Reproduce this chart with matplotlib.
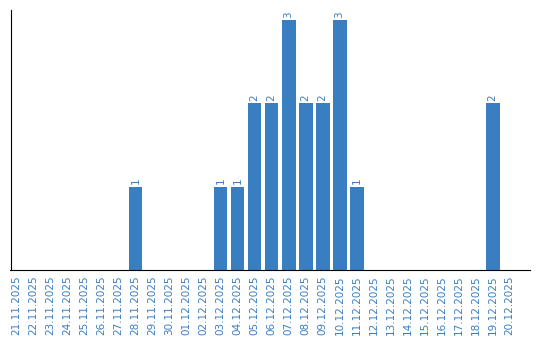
import matplotlib
matplotlib.use("Agg")
import matplotlib.pyplot as plt
import numpy as np

dates = [
    "21.11.2025", "22.11.2025", "23.11.2025", "24.11.2025", "25.11.2025",
    "26.11.2025", "27.11.2025", "28.11.2025", "29.11.2025", "30.11.2025",
    "01.12.2025", "02.12.2025", "03.12.2025", "04.12.2025", "05.12.2025",
    "06.12.2025", "07.12.2025", "08.12.2025", "09.12.2025", "10.12.2025",
    "11.12.2025", "12.12.2025", "13.12.2025", "14.12.2025", "15.12.2025",
    "16.12.2025", "17.12.2025", "18.12.2025", "19.12.2025", "20.12.2025",
]
counts = [0, 0, 0, 0, 0, 0, 0, 1, 0, 0,
          0, 0, 1, 1, 2, 2, 3, 2, 2, 3,
          1, 0, 0, 0, 0, 0, 0, 0, 2, 0]

BLUE = "#3a7ec2"

fig = plt.figure(figsize=(5.4, 3.4), dpi=100)
ax = fig.add_axes([10.5 / 540, 70 / 340, 519.5 / 540, 260 / 340])

x = np.arange(len(dates))
ax.bar(x, counts, width=0.82, color=BLUE)

for xi, c in zip(x, counts):
    if c > 0:
        ax.text(xi, c + 0.03, str(c), rotation=90, ha="center", va="bottom",
                color=BLUE, fontsize=7.5)

ax.set_xlim(-0.35, 30.2)
ax.set_ylim(0, 3.12)
ax.set_xticks(x)
ax.set_xticklabels(dates, rotation=90, color=BLUE, fontsize=7.5)
ax.tick_params(axis="x", length=0, pad=4)
ax.set_yticks([])
for side in ("top", "right"):
    ax.spines[side].set_visible(False)

fig.savefig("out.png", dpi=100)
